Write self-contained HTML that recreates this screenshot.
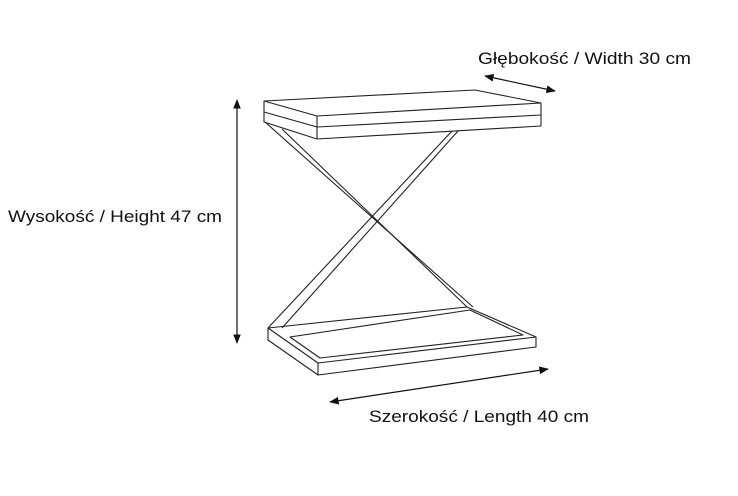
<!DOCTYPE html>
<html><head><meta charset="utf-8"><style>html,body{margin:0;padding:0;background:#fff}svg{display:block}</style></head>
<body>
<svg width="738" height="496" viewBox="0 0 738 496" xmlns="http://www.w3.org/2000/svg">
<defs><marker id="a" viewBox="0 0 10 10" refX="9" refY="5" markerWidth="8" markerHeight="8" orient="auto-start-reverse"><path d="M0,1 L10,5 L0,9 z" fill="#111"/></marker></defs>
<g fill="none" stroke="#222" stroke-width="1.1" stroke-linejoin="round">
<path d="M264,101 L475,90 L541,103 L317,116 Z"/>
<path d="M264,101 L264,122 L317,139 L541,126 L541,103"/>
<path d="M317,116 L317,139"/>
<path d="M264,112 L317,127 L541,115"/>
<path d="M265,122 L473,307"/>
<path d="M282,129 L467,307"/>
<path d="M458,131 L282,328"/>
<path d="M452,131 L268,328"/>
<path d="M268,328 L467,307 L536,337 L318,363 Z"/>
<path d="M268,328 L268,340 L318,375 L536,347 L536,337"/>
<path d="M318,363 L318,375"/>
<path d="M290,337 L470,310 L523,335 L320,358 Z"/>
</g>
<g stroke="#111" stroke-width="1.2">
<line x1="237" y1="100" x2="237" y2="343" marker-start="url(#a)" marker-end="url(#a)"/>
<line x1="485" y1="76" x2="555" y2="91" marker-start="url(#a)" marker-end="url(#a)"/>
<line x1="330" y1="402" x2="548" y2="369" marker-start="url(#a)" marker-end="url(#a)"/>
</g>
<g font-family="Liberation Sans, Arial, sans-serif" font-size="16.5" fill="#111">
<text x="478" y="64" textLength="213" lengthAdjust="spacingAndGlyphs">Głębokość / Width 30 cm</text>
<text x="8" y="222" textLength="214" lengthAdjust="spacingAndGlyphs">Wysokość / Height 47 cm</text>
<text x="369" y="422" textLength="220" lengthAdjust="spacingAndGlyphs">Szerokość / Length 40 cm</text>
</g>
</svg>
</body></html>
